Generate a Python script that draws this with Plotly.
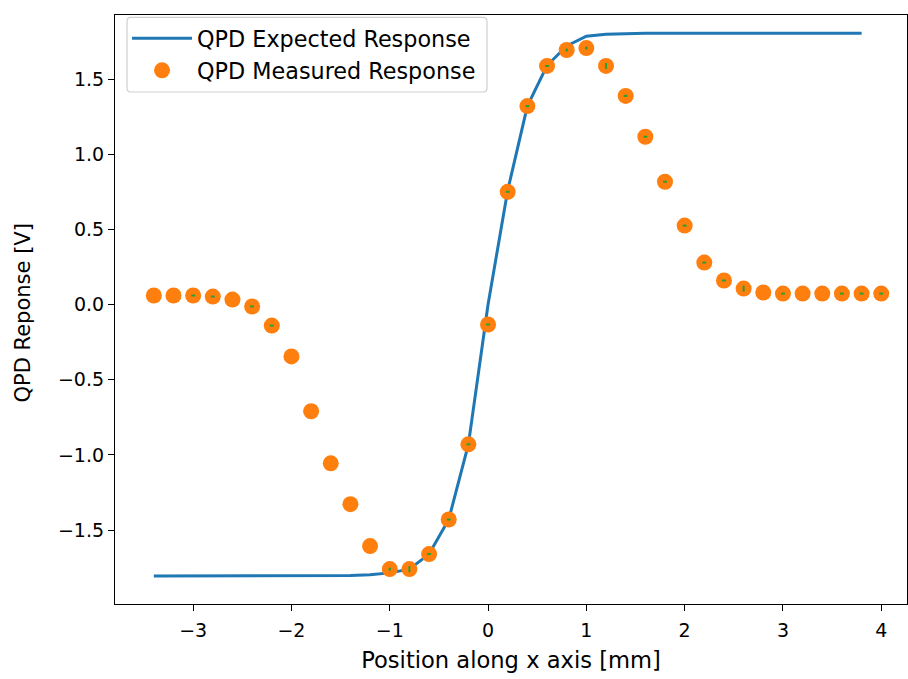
import plotly.graph_objects as go

# Expected response (line)
x_expected = [-3.4, -3.2, -3.0, -2.8, -2.6, -2.4, -2.2, -2.0, -1.8, -1.6, -1.4, -1.2,
              -1.0, -0.8, -0.6, -0.4, -0.2, 0.0, 0.2, 0.4, 0.6, 0.8, 1.0, 1.2,
              1.4, 1.6, 1.8, 2.0, 2.2, 2.4, 2.6, 2.8, 3.0, 3.2, 3.4, 3.6, 3.8]
y_expected = [-1.805, -1.805, -1.805, -1.805, -1.805, -1.805, -1.805, -1.805, -1.805, -1.804, -1.802, -1.797,
              -1.785, -1.76, -1.66, -1.43, -0.93, 0.0, 0.76, 1.32, 1.59, 1.72, 1.785, 1.798,
              1.803, 1.805, 1.805, 1.805, 1.805, 1.805, 1.805, 1.805, 1.805, 1.805, 1.805, 1.805, 1.805]

# Measured response (dots)
x_measured = [-3.4, -3.2, -3.0, -2.8, -2.6, -2.4, -2.2, -2.0, -1.8, -1.6, -1.4, -1.2,
              -1.0, -0.8, -0.6, -0.4, -0.2, 0.0, 0.2, 0.4, 0.6, 0.8, 1.0, 1.2,
              1.4, 1.6, 1.8, 2.0, 2.2, 2.4, 2.6, 2.8, 3.0, 3.2, 3.4, 3.6, 3.8, 4.0]
y_measured = [0.06, 0.06, 0.06, 0.053, 0.033, -0.013, -0.14, -0.345, -0.71, -1.056, -1.328, -1.607,
              -1.76, -1.76, -1.66, -1.43, -0.93, -0.133, 0.75, 1.32, 1.587, 1.693, 1.706, 1.587,
              1.388, 1.116, 0.817, 0.525, 0.279, 0.16, 0.106, 0.08, 0.073, 0.073, 0.073, 0.073, 0.073, 0.073]
# tiny measurement uncertainties (drawn in green inside the dots)
x_err = [0.0, 0.0, 0.02, 0.02, 0.0, 0.02, 0.02, 0.0, 0.0, 0.0, 0.0, 0.0,
         0.01, 0.0, 0.02, 0.02, 0.02, 0.02, 0.02, 0.02, 0.02, 0.01, 0.01, 0.0,
         0.02, 0.02, 0.02, 0.02, 0.02, 0.02, 0.0, 0.0, 0.02, 0.0, 0.0, 0.02, 0.02, 0.02]
y_err = [0.0, 0.0, 0.0, 0.0, 0.0, 0.0, 0.0, 0.0, 0.0, 0.0, 0.0, 0.0,
         0.01, 0.02, 0.0, 0.0, 0.0, 0.0, 0.0, 0.0, 0.0, 0.01, 0.01, 0.02,
         0.0, 0.0, 0.0, 0.0, 0.0, 0.0, 0.02, 0.0, 0.0, 0.0, 0.0, 0.0, 0.0, 0.0]

x_ticks = [-3, -2, -1, 0, 1, 2, 3, 4]
y_ticks = [-1.5, -1.0, -0.5, 0.0, 0.5, 1.0, 1.5]

FONT = "DejaVu Sans"

fig = go.Figure()
fig.add_trace(go.Scatter(
    x=x_expected, y=y_expected, mode="lines", name="QPD Expected Response",
    line=dict(color="#1f77b4", width=3),
))
fig.add_trace(go.Scatter(
    x=x_measured, y=y_measured, mode="markers", name="QPD Measured Response",
    marker=dict(color="#ff7f0e", size=16, line=dict(width=0)),
))
fig.add_trace(go.Scatter(
    x=x_measured, y=y_measured, mode="markers", showlegend=False,
    marker=dict(size=0.1, opacity=0),
    error_x=dict(type="data", array=x_err, color="#2ca02c", thickness=2, width=0),
    error_y=dict(type="data", array=y_err, color="#2ca02c", thickness=2, width=0),
    hoverinfo="skip",
))

# rounded legend frame (paper coordinates)
W, H = 792.0, 589.0
x0, x1 = 12.0 / W, 372.0 / W
y1, y0 = 1 - 2.3 / H, 1 - 77.0 / H
rx, ry = 4.0 / W, 4.0 / H
legend_path = (
    f"M{x0+rx},{y1} L{x1-rx},{y1} Q{x1},{y1} {x1},{y1-ry} "
    f"L{x1},{y0+ry} Q{x1},{y0} {x1-rx},{y0} "
    f"L{x0+rx},{y0} Q{x0},{y0} {x0},{y0+ry} "
    f"L{x0},{y1-ry} Q{x0},{y1} {x0+rx},{y1} Z"
)

fig.update_layout(
    width=908, height=679,
    margin=dict(l=115, r=1, t=15, b=75),
    paper_bgcolor="white", plot_bgcolor="white",
    font=dict(family=FONT, size=19, color="#000000"),
    showlegend=True,
    legend=dict(
        x=0.0152, y=0.996, xanchor="left", yanchor="top",
        bgcolor="rgba(0,0,0,0)", borderwidth=0,
        font=dict(family=FONT, size=22.3, color="#000000"),
        itemwidth=60, tracegroupgap=0,
    ),
    shapes=[dict(
        type="path", path=legend_path, xref="paper", yref="paper",
        fillcolor="rgba(255,255,255,0.8)", line=dict(color="#d0d0d0", width=1.2),
        layer="above",
    )],
    annotations=[dict(
        text="QPD Reponse [V]", xref="paper", yref="paper",
        x=(22 - 115) / W, y=1 - (313.5 - 15) / H, xanchor="center", yanchor="middle",
        textangle=-90, showarrow=False, font=dict(family=FONT, size=21, color="#000000"),
    )],
)
fig.update_xaxes(
    range=[-3.795, 4.262], tickvals=x_ticks,
    showline=True, mirror=True, linecolor="black", linewidth=1.2,
    ticks="outside", ticklen=6, tickwidth=1.2, tickcolor="black",
    showgrid=False, zeroline=False, ticklabelstandoff=3,
    tickfont=dict(family=FONT, size=19),
    title=dict(text="Position along x axis [mm]", font=dict(family=FONT, size=22.6), standoff=12),
)
fig.update_yaxes(
    range=[-1.992, 1.926], tickvals=y_ticks, tickformat=".1f",
    showline=True, mirror=True, linecolor="black", linewidth=1.2,
    ticks="outside", ticklen=6, tickwidth=1.2, tickcolor="black",
    showgrid=False, zeroline=False,
    tickfont=dict(family=FONT, size=19),
)

fig.write_html("out.html")
